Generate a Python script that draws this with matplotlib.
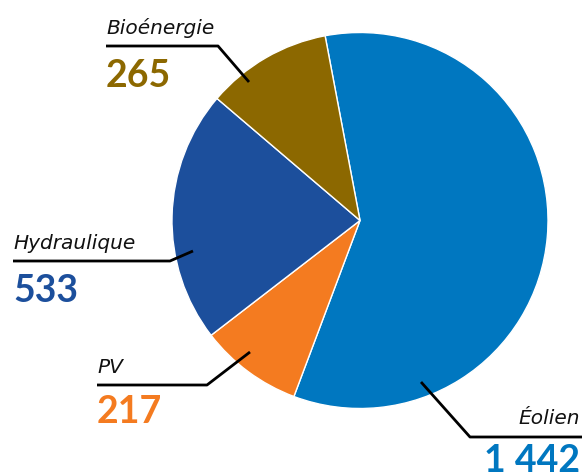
import matplotlib
matplotlib.use('Agg')
import matplotlib.pyplot as plt

# data, clockwise from the top
labels = ['Éolien', 'PV', 'Hydraulique', 'Bioénergie']
values = [1442, 217, 533, 265]
value_text = ['1 442', '217', '533', '265']
colors = ['#0077c0', '#f47b20', '#1c4f9c', '#8c6800']

W, H = 583, 477
fig = plt.figure(figsize=(W / 100, H / 100), dpi=100)
ax = fig.add_axes([0, 0, 1, 1])

cx, cy, r = 360, H - 221.5, 188
ax.pie(values, colors=colors, startangle=100.7, counterclock=False,
       center=(cx, cy), radius=r, frame=True,
       wedgeprops=dict(edgecolor='white', linewidth=1.0))
ax.set_xlim(0, W)
ax.set_ylim(0, H)
ax.set_aspect('equal')
ax.axis('off')

def y(v):
    return H - v

# label text position, leader line points, number baseline, alignment
layout = {
    'Bioénergie': dict(tx=106, ty=34, line=[(106, 47), (218, 47), (249, 83)], ny=87, ha='left'),
    'Hydraulique': dict(tx=13, ty=249, line=[(13, 262), (170, 262), (193, 252)], ny=302, ha='left'),
    'PV': dict(tx=97, ty=373, line=[(97, 386), (207, 386), (250, 353)], ny=423, ha='left'),
    'Éolien': dict(tx=580, ty=424, line=[(421, 383), (470, 438), (582, 438)], ny=472, ha='right'),
}

for lab, txt, col in zip(labels, value_text, colors):
    L = layout[lab]
    ax.text(L['tx'], y(L['ty']), lab, ha=L['ha'], va='baseline',
            fontsize=14.5, style='oblique', family='DejaVu Sans', color='#111111')
    xs = [p[0] for p in L['line']]
    ys = [y(p[1]) for p in L['line']]
    ax.plot(xs, ys, color='black', lw=2, solid_capstyle='butt')
    ax.text(L['tx'], y(L['ny']), txt, ha=L['ha'], va='baseline',
            fontsize=27, fontweight='bold', family=['Lato', 'DejaVu Sans'], color=col)

fig.savefig('out.png', dpi=100)
